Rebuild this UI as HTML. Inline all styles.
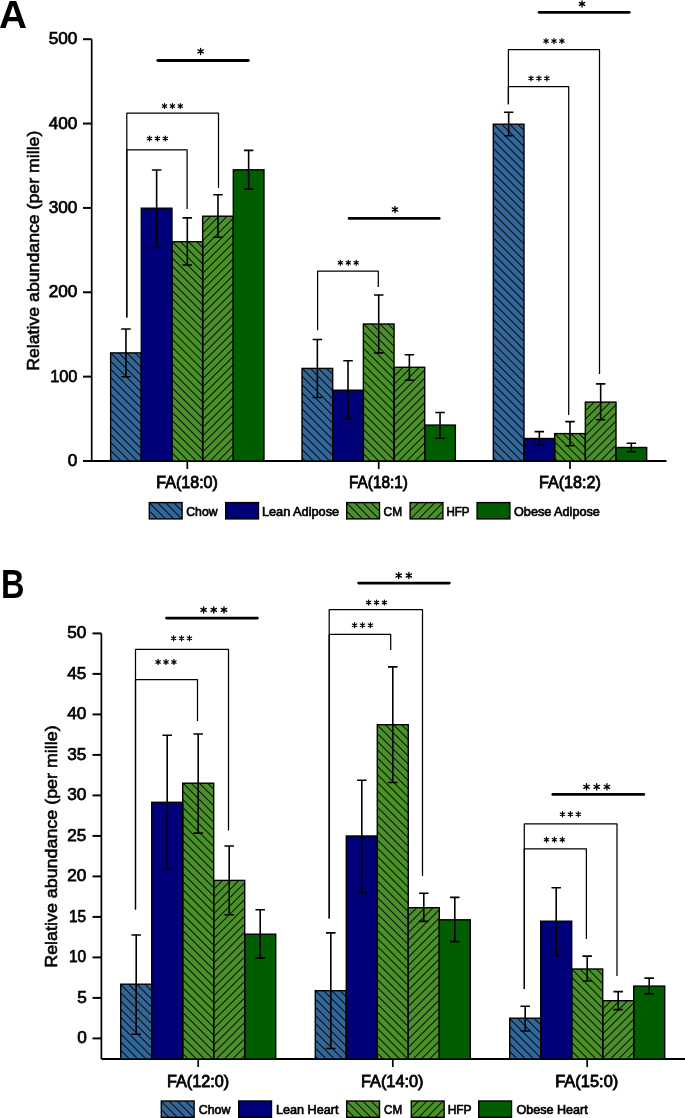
<!DOCTYPE html><html><head><meta charset="utf-8"><style>html,body{margin:0;padding:0;background:#fff;overflow:hidden}svg{display:block;will-change:transform}</style></head><body><div id="w">
<svg width="685" height="1118" viewBox="0 0 685 1118" font-family="'Liberation Sans', sans-serif">
<defs>
<pattern id="hb" patternUnits="userSpaceOnUse" width="8" height="8"><path d="M-1,-1L9,9M-1,7L1,9M7,-1L9,1" stroke="#000" stroke-opacity="0.85" stroke-width="1.05"/></pattern>
<pattern id="hf" patternUnits="userSpaceOnUse" width="8" height="8"><path d="M-1,9L9,-1M-1,1L1,-1M7,9L9,7" stroke="#000" stroke-opacity="0.85" stroke-width="1.05"/></pattern>
</defs>
<g>
<text x="-0.99" y="27.70" font-size="39" font-weight="bold" textLength="27.96" lengthAdjust="spacingAndGlyphs">A</text>
<path d="M91.7,39.20V461" stroke="#000" stroke-width="1.7" fill="none"/>
<path d="M83,461H666.5" stroke="#000" stroke-width="2" fill="none"/>
<path d="M83,461.00H91.7" stroke="#000" stroke-width="2"/>
<text x="67.70" y="466.00" font-size="17.2" stroke="#000" stroke-width="0.75" textLength="9.56" lengthAdjust="spacingAndGlyphs">0</text>
<path d="M83,376.64H91.7" stroke="#000" stroke-width="2"/>
<text x="50.15" y="381.64" font-size="17.2" stroke="#000" stroke-width="0.75" textLength="27.20" lengthAdjust="spacingAndGlyphs">100</text>
<path d="M83,292.28H91.7" stroke="#000" stroke-width="2"/>
<text x="48.70" y="297.28" font-size="17.2" stroke="#000" stroke-width="0.75" textLength="28.69" lengthAdjust="spacingAndGlyphs">200</text>
<path d="M83,207.92H91.7" stroke="#000" stroke-width="2"/>
<text x="48.70" y="212.92" font-size="17.2" stroke="#000" stroke-width="0.75" textLength="28.69" lengthAdjust="spacingAndGlyphs">300</text>
<path d="M83,123.56H91.7" stroke="#000" stroke-width="2"/>
<text x="48.70" y="128.56" font-size="17.2" stroke="#000" stroke-width="0.75" textLength="28.69" lengthAdjust="spacingAndGlyphs">400</text>
<path d="M83,39.20H91.7" stroke="#000" stroke-width="2"/>
<text x="48.70" y="44.20" font-size="17.2" stroke="#000" stroke-width="0.75" textLength="28.69" lengthAdjust="spacingAndGlyphs">500</text>
<text transform="translate(39.10,369.80) rotate(-90)" x="-1.03" y="0" font-size="17.2" stroke="#000" stroke-width="0.6" textLength="240.14" lengthAdjust="spacingAndGlyphs">Relative abundance (per mille)</text>
<rect x="110.62" y="352.90" width="30.67" height="108.10" fill="#336699"/>
<clipPath id="c1"><rect x="110.62" y="352.90" width="30.67" height="108.10"/></clipPath>
<path clip-path="url(#c1)" d="M108.62,310.26L143.30,344.93M108.62,318.38L143.30,353.06M108.62,326.51L143.30,361.18M108.62,334.64L143.30,369.31M108.62,342.77L143.30,377.44M108.62,350.90L143.30,385.57M108.62,359.02L143.30,393.69M108.62,367.15L143.30,401.82M108.62,375.28L143.30,409.95M108.62,383.41L143.30,418.08M108.62,391.54L143.30,426.21M108.62,399.66L143.30,434.33M108.62,407.79L143.30,442.46M108.62,415.92L143.30,450.59M108.62,424.05L143.30,458.72M108.62,432.18L143.30,466.85M108.62,440.30L143.30,474.98M108.62,448.43L143.30,483.10M108.62,456.56L143.30,491.23M108.62,464.69L143.30,499.36" stroke="#000" stroke-opacity="0.85" stroke-width="1.05" fill="none"/>
<rect x="141.30" y="208.20" width="30.67" height="252.80" fill="#000078"/>
<rect x="171.97" y="241.70" width="30.67" height="219.30" fill="#4a912a"/>
<clipPath id="c2"><rect x="171.97" y="241.70" width="30.67" height="219.30"/></clipPath>
<path clip-path="url(#c2)" d="M169.97,198.79L204.63,233.46M169.97,206.92L204.63,241.59M169.97,215.05L204.63,249.72M169.97,223.18L204.63,257.85M169.97,231.31L204.63,265.97M169.97,239.43L204.63,274.10M169.97,247.56L204.63,282.23M169.97,255.69L204.63,290.36M169.97,263.82L204.63,298.49M169.97,271.94L204.63,306.61M169.97,280.07L204.63,314.74M169.97,288.20L204.63,322.87M169.97,296.33L204.63,331.00M169.97,304.46L204.63,339.13M169.97,312.59L204.63,347.25M169.97,320.71L204.63,355.38M169.97,328.84L204.63,363.51M169.97,336.97L204.63,371.64M169.97,345.10L204.63,379.77M169.97,353.23L204.63,387.89M169.97,361.35L204.63,396.02M169.97,369.48L204.63,404.15M169.97,377.61L204.63,412.28M169.97,385.74L204.63,420.41M169.97,393.87L204.63,428.53M169.97,401.99L204.63,436.66M169.97,410.12L204.63,444.79M169.97,418.25L204.63,452.92M169.97,426.38L204.63,461.05M169.97,434.50L204.63,469.17M169.97,442.63L204.63,477.30M169.97,450.76L204.63,485.43M169.97,458.89L204.63,493.56M169.97,467.02L204.63,501.69" stroke="#000" stroke-opacity="0.85" stroke-width="1.05" fill="none"/>
<rect x="202.63" y="216.20" width="30.67" height="244.80" fill="#4a912a"/>
<clipPath id="c3"><rect x="202.63" y="216.20" width="30.67" height="244.80"/></clipPath>
<path clip-path="url(#c3)" d="M200.63,210.24L235.31,175.57M200.63,218.37L235.31,183.70M200.63,226.50L235.31,191.83M200.63,234.62L235.31,199.95M200.63,242.75L235.31,208.08M200.63,250.88L235.31,216.21M200.63,259.01L235.31,224.34M200.63,267.14L235.31,232.47M200.63,275.26L235.31,240.59M200.63,283.39L235.31,248.72M200.63,291.52L235.31,256.85M200.63,299.65L235.31,264.98M200.63,307.78L235.31,273.11M200.63,315.90L235.31,281.23M200.63,324.03L235.31,289.36M200.63,332.16L235.31,297.49M200.63,340.29L235.31,305.62M200.63,348.42L235.31,313.75M200.63,356.54L235.31,321.88M200.63,364.67L235.31,330.00M200.63,372.80L235.31,338.13M200.63,380.93L235.31,346.26M200.63,389.06L235.31,354.39M200.63,397.19L235.31,362.51M200.63,405.31L235.31,370.64M200.63,413.44L235.31,378.77M200.63,421.57L235.31,386.90M200.63,429.70L235.31,395.03M200.63,437.82L235.31,403.15M200.63,445.95L235.31,411.28M200.63,454.08L235.31,419.41M200.63,462.21L235.31,427.54M200.63,470.34L235.31,435.67M200.63,478.46L235.31,443.79M200.63,486.59L235.31,451.92M200.63,494.72L235.31,460.05M200.63,502.85L235.31,468.18" stroke="#000" stroke-opacity="0.85" stroke-width="1.05" fill="none"/>
<rect x="233.31" y="169.80" width="30.67" height="291.20" fill="#005e00"/>
<rect x="110.62" y="352.90" width="30.67" height="108.10" fill="none" stroke="#000" stroke-width="1.4"/>
<rect x="141.30" y="208.20" width="30.67" height="252.80" fill="none" stroke="#000" stroke-width="1.4"/>
<rect x="171.97" y="241.70" width="30.67" height="219.30" fill="none" stroke="#000" stroke-width="1.4"/>
<rect x="202.63" y="216.20" width="30.67" height="244.80" fill="none" stroke="#000" stroke-width="1.4"/>
<rect x="233.31" y="169.80" width="30.67" height="291.20" fill="none" stroke="#000" stroke-width="1.4"/>
<path d="M125.96,329.00V376.70M121.21,329.00H130.71M121.21,376.70H130.71" stroke="#000" stroke-width="1.6" fill="none"/>
<path d="M156.63,170.00V247.20M151.88,170.00H161.38M151.88,247.20H161.38" stroke="#000" stroke-width="1.6" fill="none"/>
<path d="M187.30,217.90V265.00M182.55,217.90H192.05M182.55,265.00H192.05" stroke="#000" stroke-width="1.6" fill="none"/>
<path d="M217.97,194.80V237.30M213.22,194.80H222.72M213.22,237.30H222.72" stroke="#000" stroke-width="1.6" fill="none"/>
<path d="M248.64,150.40V189.10M243.89,150.40H253.39M243.89,189.10H253.39" stroke="#000" stroke-width="1.6" fill="none"/>
<path d="M187.30,461V469" stroke="#000" stroke-width="1.7"/>
<text x="156.25" y="488.40" font-size="17" stroke="#000" stroke-width="0.85" textLength="61.64" lengthAdjust="spacingAndGlyphs">FA(18:0)</text>
<rect x="302.02" y="368.40" width="30.67" height="92.60" fill="#336699"/>
<clipPath id="c4"><rect x="302.02" y="368.40" width="30.67" height="92.60"/></clipPath>
<path clip-path="url(#c4)" d="M300.02,325.57L334.69,360.24M300.02,333.70L334.69,368.37M300.02,341.83L334.69,376.50M300.02,349.96L334.69,384.63M300.02,358.08L334.69,392.75M300.02,366.21L334.69,400.88M300.02,374.34L334.69,409.01M300.02,382.47L334.69,417.14M300.02,390.60L334.69,425.27M300.02,398.72L334.69,433.39M300.02,406.85L334.69,441.52M300.02,414.98L334.69,449.65M300.02,423.11L334.69,457.78M300.02,431.24L334.69,465.91M300.02,439.36L334.69,474.03M300.02,447.49L334.69,482.16M300.02,455.62L334.69,490.29M300.02,463.75L334.69,498.42" stroke="#000" stroke-opacity="0.85" stroke-width="1.05" fill="none"/>
<rect x="332.69" y="390.20" width="30.67" height="70.80" fill="#000078"/>
<rect x="363.37" y="324.00" width="30.67" height="137.00" fill="#4a912a"/>
<clipPath id="c5"><rect x="363.37" y="324.00" width="30.67" height="137.00"/></clipPath>
<path clip-path="url(#c5)" d="M361.37,281.03L396.04,315.70M361.37,289.16L396.04,323.83M361.37,297.28L396.04,331.96M361.37,305.41L396.04,340.08M361.37,313.54L396.04,348.21M361.37,321.67L396.04,356.34M361.37,329.80L396.04,364.47M361.37,337.93L396.04,372.60M361.37,346.05L396.04,380.72M361.37,354.18L396.04,388.85M361.37,362.31L396.04,396.98M361.37,370.44L396.04,405.11M361.37,378.56L396.04,413.24M361.37,386.69L396.04,421.36M361.37,394.82L396.04,429.49M361.37,402.95L396.04,437.62M361.37,411.08L396.04,445.75M361.37,419.20L396.04,453.88M361.37,427.33L396.04,462.00M361.37,435.46L396.04,470.13M361.37,443.59L396.04,478.26M361.37,451.72L396.04,486.39M361.37,459.85L396.04,494.51M361.37,467.97L396.04,502.64" stroke="#000" stroke-opacity="0.85" stroke-width="1.05" fill="none"/>
<rect x="394.03" y="367.30" width="30.67" height="93.70" fill="#4a912a"/>
<clipPath id="c6"><rect x="394.03" y="367.30" width="30.67" height="93.70"/></clipPath>
<path clip-path="url(#c6)" d="M392.03,361.97L426.70,327.30M392.03,370.10L426.70,335.43M392.03,378.23L426.70,343.56M392.03,386.35L426.70,351.68M392.03,394.48L426.70,359.81M392.03,402.61L426.70,367.94M392.03,410.74L426.70,376.07M392.03,418.87L426.70,384.19M392.03,426.99L426.70,392.32M392.03,435.12L426.70,400.45M392.03,443.25L426.70,408.58M392.03,451.38L426.70,416.71M392.03,459.50L426.70,424.83M392.03,467.63L426.70,432.96M392.03,475.76L426.70,441.09M392.03,483.89L426.70,449.22M392.03,492.02L426.70,457.35M392.03,500.14L426.70,465.48" stroke="#000" stroke-opacity="0.85" stroke-width="1.05" fill="none"/>
<rect x="424.70" y="425.10" width="30.67" height="35.90" fill="#005e00"/>
<rect x="302.02" y="368.40" width="30.67" height="92.60" fill="none" stroke="#000" stroke-width="1.4"/>
<rect x="332.69" y="390.20" width="30.67" height="70.80" fill="none" stroke="#000" stroke-width="1.4"/>
<rect x="363.37" y="324.00" width="30.67" height="137.00" fill="none" stroke="#000" stroke-width="1.4"/>
<rect x="394.03" y="367.30" width="30.67" height="93.70" fill="none" stroke="#000" stroke-width="1.4"/>
<rect x="424.70" y="425.10" width="30.67" height="35.90" fill="none" stroke="#000" stroke-width="1.4"/>
<path d="M317.36,339.50V397.50M312.61,339.50H322.11M312.61,397.50H322.11" stroke="#000" stroke-width="1.6" fill="none"/>
<path d="M348.03,360.80V419.10M343.28,360.80H352.78M343.28,419.10H352.78" stroke="#000" stroke-width="1.6" fill="none"/>
<path d="M378.70,295.00V352.90M373.95,295.00H383.45M373.95,352.90H383.45" stroke="#000" stroke-width="1.6" fill="none"/>
<path d="M409.37,354.70V380.20M404.62,354.70H414.12M404.62,380.20H414.12" stroke="#000" stroke-width="1.6" fill="none"/>
<path d="M440.04,412.50V438.30M435.29,412.50H444.79M435.29,438.30H444.79" stroke="#000" stroke-width="1.6" fill="none"/>
<path d="M378.70,461V469" stroke="#000" stroke-width="1.7"/>
<text x="349.00" y="488.40" font-size="17" stroke="#000" stroke-width="0.85" textLength="58.89" lengthAdjust="spacingAndGlyphs">FA(18:1)</text>
<rect x="493.32" y="124.20" width="30.67" height="336.80" fill="#336699"/>
<clipPath id="c7"><rect x="493.32" y="124.20" width="30.67" height="336.80"/></clipPath>
<path clip-path="url(#c7)" d="M491.32,81.35L526.00,116.02M491.32,89.48L526.00,124.15M491.32,97.61L526.00,132.28M491.32,105.74L526.00,140.41M491.32,113.87L526.00,148.54M491.32,121.99L526.00,156.66M491.32,130.12L526.00,164.79M491.32,138.25L526.00,172.92M491.32,146.38L526.00,181.05M491.32,154.50L526.00,189.18M491.32,162.63L526.00,197.30M491.32,170.76L526.00,205.43M491.32,178.89L526.00,213.56M491.32,187.02L526.00,221.69M491.32,195.15L526.00,229.82M491.32,203.27L526.00,237.94M491.32,211.40L526.00,246.07M491.32,219.53L526.00,254.20M491.32,227.66L526.00,262.33M491.32,235.79L526.00,270.46M491.32,243.91L526.00,278.58M491.32,252.04L526.00,286.71M491.32,260.17L526.00,294.84M491.32,268.30L526.00,302.97M491.32,276.43L526.00,311.10M491.32,284.55L526.00,319.22M491.32,292.68L526.00,327.35M491.32,300.81L526.00,335.48M491.32,308.94L526.00,343.61M491.32,317.06L526.00,351.74M491.32,325.19L526.00,359.86M491.32,333.32L526.00,367.99M491.32,341.45L526.00,376.12M491.32,349.58L526.00,384.25M491.32,357.71L526.00,392.38M491.32,365.83L526.00,400.50M491.32,373.96L526.00,408.63M491.32,382.09L526.00,416.76M491.32,390.22L526.00,424.89M491.32,398.35L526.00,433.02M491.32,406.47L526.00,441.14M491.32,414.60L526.00,449.27M491.32,422.73L526.00,457.40M491.32,430.86L526.00,465.53M491.32,438.99L526.00,473.66M491.32,447.11L526.00,481.78M491.32,455.24L526.00,489.91M491.32,463.37L526.00,498.04" stroke="#000" stroke-opacity="0.85" stroke-width="1.05" fill="none"/>
<rect x="524.00" y="438.50" width="30.67" height="22.50" fill="#000078"/>
<rect x="554.66" y="433.60" width="30.67" height="27.40" fill="#4a912a"/>
<clipPath id="c8"><rect x="554.66" y="433.60" width="30.67" height="27.40"/></clipPath>
<path clip-path="url(#c8)" d="M552.66,390.92L587.33,425.59M552.66,399.05L587.33,433.72M552.66,407.18L587.33,441.85M552.66,415.31L587.33,449.98M552.66,423.44L587.33,458.11M552.66,431.56L587.33,466.23M552.66,439.69L587.33,474.36M552.66,447.82L587.33,482.49M552.66,455.95L587.33,490.62M552.66,464.08L587.33,498.75" stroke="#000" stroke-opacity="0.85" stroke-width="1.05" fill="none"/>
<rect x="585.34" y="402.10" width="30.67" height="58.90" fill="#4a912a"/>
<clipPath id="c9"><rect x="585.34" y="402.10" width="30.67" height="58.90"/></clipPath>
<path clip-path="url(#c9)" d="M583.34,396.72L618.00,362.06M583.34,404.85L618.00,370.18M583.34,412.98L618.00,378.31M583.34,421.11L618.00,386.44M583.34,429.24L618.00,394.57M583.34,437.36L618.00,402.69M583.34,445.49L618.00,410.82M583.34,453.62L618.00,418.95M583.34,461.75L618.00,427.08M583.34,469.88L618.00,435.21M583.34,478.00L618.00,443.33M583.34,486.13L618.00,451.46M583.34,494.26L618.00,459.59M583.34,502.39L618.00,467.72" stroke="#000" stroke-opacity="0.85" stroke-width="1.05" fill="none"/>
<rect x="616.00" y="447.50" width="30.67" height="13.50" fill="#005e00"/>
<rect x="493.32" y="124.20" width="30.67" height="336.80" fill="none" stroke="#000" stroke-width="1.4"/>
<rect x="524.00" y="438.50" width="30.67" height="22.50" fill="none" stroke="#000" stroke-width="1.4"/>
<rect x="554.66" y="433.60" width="30.67" height="27.40" fill="none" stroke="#000" stroke-width="1.4"/>
<rect x="585.34" y="402.10" width="30.67" height="58.90" fill="none" stroke="#000" stroke-width="1.4"/>
<rect x="616.00" y="447.50" width="30.67" height="13.50" fill="none" stroke="#000" stroke-width="1.4"/>
<path d="M508.66,112.20V135.80M503.91,112.20H513.41M503.91,135.80H513.41" stroke="#000" stroke-width="1.6" fill="none"/>
<path d="M539.33,431.60V445.10M534.58,431.60H544.08M534.58,445.10H544.08" stroke="#000" stroke-width="1.6" fill="none"/>
<path d="M570.00,421.60V445.80M565.25,421.60H574.75M565.25,445.80H574.75" stroke="#000" stroke-width="1.6" fill="none"/>
<path d="M600.67,383.90V419.70M595.92,383.90H605.42M595.92,419.70H605.42" stroke="#000" stroke-width="1.6" fill="none"/>
<path d="M631.34,443.20V451.80M626.59,443.20H636.09M626.59,451.80H636.09" stroke="#000" stroke-width="1.6" fill="none"/>
<path d="M570.00,461V469" stroke="#000" stroke-width="1.7"/>
<text x="538.95" y="488.40" font-size="17" stroke="#000" stroke-width="0.85" textLength="61.94" lengthAdjust="spacingAndGlyphs">FA(18:2)</text>
<path d="M157.80,60.50H248.30" stroke="#000" stroke-width="2.8" stroke-linecap="round"/>
<path d="M200.60,48.30V54.50M197.92,49.85L203.28,52.95M197.92,52.95L203.28,49.85" stroke="#000" stroke-width="1.35" stroke-linecap="round" fill="none"/><circle cx="200.60" cy="51.40" r="1.1"/>
<path d="M126.80,317.40V113.10H218.50V187.90" stroke="#000" stroke-width="1.25" fill="none" stroke-linejoin="round"/>
<path d="M164.50,103.50V108.50M162.33,104.75L166.67,107.25M162.33,107.25L166.67,104.75" stroke="#000" stroke-width="1.2" stroke-linecap="round" fill="none"/><circle cx="164.50" cy="106.00" r="0.75"/><path d="M172.40,103.50V108.50M170.23,104.75L174.57,107.25M170.23,107.25L174.57,104.75" stroke="#000" stroke-width="1.2" stroke-linecap="round" fill="none"/><circle cx="172.40" cy="106.00" r="0.75"/><path d="M180.30,103.50V108.50M178.13,104.75L182.47,107.25M178.13,107.25L182.47,104.75" stroke="#000" stroke-width="1.2" stroke-linecap="round" fill="none"/><circle cx="180.30" cy="106.00" r="0.75"/>
<path d="M126.80,317.40V149.80H187.10V209.00" stroke="#000" stroke-width="1.25" fill="none" stroke-linejoin="round"/>
<path d="M149.50,136.00V141.00M147.33,137.25L151.67,139.75M147.33,139.75L151.67,137.25" stroke="#000" stroke-width="1.2" stroke-linecap="round" fill="none"/><circle cx="149.50" cy="138.50" r="0.75"/><path d="M157.40,136.00V141.00M155.23,137.25L159.57,139.75M155.23,139.75L159.57,137.25" stroke="#000" stroke-width="1.2" stroke-linecap="round" fill="none"/><circle cx="157.40" cy="138.50" r="0.75"/><path d="M165.30,136.00V141.00M163.13,137.25L167.47,139.75M163.13,139.75L167.47,137.25" stroke="#000" stroke-width="1.2" stroke-linecap="round" fill="none"/><circle cx="165.30" cy="138.50" r="0.75"/>
<path d="M349.10,218.40H439.20" stroke="#000" stroke-width="2.8" stroke-linecap="round"/>
<path d="M395.00,206.40V212.60M392.32,207.95L397.68,211.05M392.32,211.05L397.68,207.95" stroke="#000" stroke-width="1.35" stroke-linecap="round" fill="none"/><circle cx="395.00" cy="209.50" r="1.1"/>
<path d="M317.60,330.30V271.20H378.30V287.00" stroke="#000" stroke-width="1.25" fill="none" stroke-linejoin="round"/>
<path d="M340.40,260.30V265.30M338.23,261.55L342.57,264.05M338.23,264.05L342.57,261.55" stroke="#000" stroke-width="1.2" stroke-linecap="round" fill="none"/><circle cx="340.40" cy="262.80" r="0.75"/><path d="M348.30,260.30V265.30M346.13,261.55L350.47,264.05M346.13,264.05L350.47,261.55" stroke="#000" stroke-width="1.2" stroke-linecap="round" fill="none"/><circle cx="348.30" cy="262.80" r="0.75"/><path d="M356.20,260.30V265.30M354.03,261.55L358.37,264.05M354.03,264.05L358.37,261.55" stroke="#000" stroke-width="1.2" stroke-linecap="round" fill="none"/><circle cx="356.20" cy="262.80" r="0.75"/>
<path d="M539.10,12.35H629.20" stroke="#000" stroke-width="2.8" stroke-linecap="round"/>
<path d="M582.00,0.80V7.00M579.32,2.35L584.68,5.45M579.32,5.45L584.68,2.35" stroke="#000" stroke-width="1.35" stroke-linecap="round" fill="none"/><circle cx="582.00" cy="3.90" r="1.1"/>
<path d="M508.40,104.30V49.70H599.50V374.00" stroke="#000" stroke-width="1.25" fill="none" stroke-linejoin="round"/>
<path d="M546.10,38.60V43.60M543.93,39.85L548.27,42.35M543.93,42.35L548.27,39.85" stroke="#000" stroke-width="1.2" stroke-linecap="round" fill="none"/><circle cx="546.10" cy="41.10" r="0.75"/><path d="M554.00,38.60V43.60M551.83,39.85L556.17,42.35M551.83,42.35L556.17,39.85" stroke="#000" stroke-width="1.2" stroke-linecap="round" fill="none"/><circle cx="554.00" cy="41.10" r="0.75"/><path d="M561.90,38.60V43.60M559.73,39.85L564.07,42.35M559.73,42.35L564.07,39.85" stroke="#000" stroke-width="1.2" stroke-linecap="round" fill="none"/><circle cx="561.90" cy="41.10" r="0.75"/>
<path d="M508.40,104.30V86.70H568.70V415.00" stroke="#000" stroke-width="1.25" fill="none" stroke-linejoin="round"/>
<path d="M531.00,75.80V80.80M528.83,77.05L533.17,79.55M528.83,79.55L533.17,77.05" stroke="#000" stroke-width="1.2" stroke-linecap="round" fill="none"/><circle cx="531.00" cy="78.30" r="0.75"/><path d="M538.90,75.80V80.80M536.73,77.05L541.07,79.55M536.73,79.55L541.07,77.05" stroke="#000" stroke-width="1.2" stroke-linecap="round" fill="none"/><circle cx="538.90" cy="78.30" r="0.75"/><path d="M546.80,75.80V80.80M544.63,77.05L548.97,79.55M544.63,79.55L548.97,77.05" stroke="#000" stroke-width="1.2" stroke-linecap="round" fill="none"/><circle cx="546.80" cy="78.30" r="0.75"/>
<rect x="149.30" y="502.60" width="32.8" height="16.3" fill="#336699"/>
<clipPath id="c10"><rect x="149.30" y="502.60" width="32.80" height="16.30"/></clipPath>
<path clip-path="url(#c10)" d="M147.30,459.85L184.10,496.65M147.30,468.02L184.10,504.82M147.30,476.19L184.10,512.99M147.30,484.36L184.10,521.16M147.30,492.53L184.10,529.33M147.30,500.70L184.10,537.50M147.30,508.87L184.10,545.67M147.30,517.04L184.10,553.84M147.30,525.21L184.10,562.01" stroke="#000" stroke-opacity="0.85" stroke-width="1.05" fill="none"/>
<rect x="149.30" y="502.60" width="32.8" height="16.3" fill="none" stroke="#000" stroke-width="1.4"/>
<text x="186.30" y="516.00" font-size="12.3" stroke="#000" stroke-width="0.65" textLength="31.26" lengthAdjust="spacingAndGlyphs">Chow</text>
<rect x="225.70" y="502.60" width="32.8" height="16.3" fill="#000078"/>
<rect x="225.70" y="502.60" width="32.8" height="16.3" fill="none" stroke="#000" stroke-width="1.4"/>
<text x="261.96" y="516.00" font-size="12.3" stroke="#000" stroke-width="0.65" textLength="77.20" lengthAdjust="spacingAndGlyphs">Lean Adipose</text>
<rect x="346.70" y="502.60" width="32.8" height="16.3" fill="#4a912a"/>
<clipPath id="c11"><rect x="346.70" y="502.60" width="32.80" height="16.30"/></clipPath>
<path clip-path="url(#c11)" d="M344.70,460.15L381.50,496.95M344.70,468.32L381.50,505.12M344.70,476.49L381.50,513.29M344.70,484.66L381.50,521.46M344.70,492.83L381.50,529.63M344.70,501.00L381.50,537.80M344.70,509.17L381.50,545.97M344.70,517.34L381.50,554.14M344.70,525.51L381.50,562.31" stroke="#000" stroke-opacity="0.85" stroke-width="1.05" fill="none"/>
<rect x="346.70" y="502.60" width="32.8" height="16.3" fill="none" stroke="#000" stroke-width="1.4"/>
<text x="383.60" y="516.00" font-size="12.3" stroke="#000" stroke-width="0.65" textLength="18.52" lengthAdjust="spacingAndGlyphs">CM</text>
<rect x="410.10" y="502.60" width="32.8" height="16.3" fill="#4a912a"/>
<clipPath id="c12"><rect x="410.10" y="502.60" width="32.80" height="16.30"/></clipPath>
<path clip-path="url(#c12)" d="M408.10,496.76L444.90,459.96M408.10,504.93L444.90,468.13M408.10,513.10L444.90,476.30M408.10,521.27L444.90,484.47M408.10,529.44L444.90,492.64M408.10,537.61L444.90,500.81M408.10,545.78L444.90,508.98M408.10,553.95L444.90,517.15M408.10,562.12L444.90,525.32" stroke="#000" stroke-opacity="0.85" stroke-width="1.05" fill="none"/>
<rect x="410.10" y="502.60" width="32.8" height="16.3" fill="none" stroke="#000" stroke-width="1.4"/>
<text x="446.46" y="516.00" font-size="12.3" stroke="#000" stroke-width="0.65" textLength="23.11" lengthAdjust="spacingAndGlyphs">HFP</text>
<rect x="477.10" y="502.60" width="32.8" height="16.3" fill="#005e00"/>
<rect x="477.10" y="502.60" width="32.8" height="16.3" fill="none" stroke="#000" stroke-width="1.4"/>
<text x="514.00" y="516.00" font-size="12.3" stroke="#000" stroke-width="0.65" textLength="85.82" lengthAdjust="spacingAndGlyphs">Obese Adipose</text>
<text x="0.89" y="598.10" font-size="40.5" font-weight="bold" textLength="23.52" lengthAdjust="spacingAndGlyphs">B</text>
<path d="M101.4,633.40V1059" stroke="#000" stroke-width="1.7" fill="none"/>
<path d="M101.4,1059H685" stroke="#000" stroke-width="2" fill="none"/>
<path d="M92.5,1038.40H101.4" stroke="#000" stroke-width="2"/>
<text x="77.30" y="1043.40" font-size="17.2" stroke="#000" stroke-width="0.75" textLength="9.56" lengthAdjust="spacingAndGlyphs">0</text>
<path d="M92.5,997.90H101.4" stroke="#000" stroke-width="2"/>
<text x="77.30" y="1002.90" font-size="17.2" stroke="#000" stroke-width="0.75" textLength="9.56" lengthAdjust="spacingAndGlyphs">5</text>
<path d="M92.5,957.40H101.4" stroke="#000" stroke-width="2"/>
<text x="69.00" y="962.40" font-size="17.2" stroke="#000" stroke-width="0.75" textLength="17.21" lengthAdjust="spacingAndGlyphs">10</text>
<path d="M92.5,916.90H101.4" stroke="#000" stroke-width="2"/>
<text x="69.00" y="921.90" font-size="17.2" stroke="#000" stroke-width="0.75" textLength="17.21" lengthAdjust="spacingAndGlyphs">15</text>
<path d="M92.5,876.40H101.4" stroke="#000" stroke-width="2"/>
<text x="67.30" y="881.40" font-size="17.2" stroke="#000" stroke-width="0.75" textLength="19.12" lengthAdjust="spacingAndGlyphs">20</text>
<path d="M92.5,835.90H101.4" stroke="#000" stroke-width="2"/>
<text x="67.30" y="840.90" font-size="17.2" stroke="#000" stroke-width="0.75" textLength="19.12" lengthAdjust="spacingAndGlyphs">25</text>
<path d="M92.5,795.40H101.4" stroke="#000" stroke-width="2"/>
<text x="67.30" y="800.40" font-size="17.2" stroke="#000" stroke-width="0.75" textLength="19.12" lengthAdjust="spacingAndGlyphs">30</text>
<path d="M92.5,754.90H101.4" stroke="#000" stroke-width="2"/>
<text x="67.30" y="759.90" font-size="17.2" stroke="#000" stroke-width="0.75" textLength="19.12" lengthAdjust="spacingAndGlyphs">35</text>
<path d="M92.5,714.40H101.4" stroke="#000" stroke-width="2"/>
<text x="67.30" y="719.40" font-size="17.2" stroke="#000" stroke-width="0.75" textLength="19.12" lengthAdjust="spacingAndGlyphs">40</text>
<path d="M92.5,673.90H101.4" stroke="#000" stroke-width="2"/>
<text x="67.30" y="678.90" font-size="17.2" stroke="#000" stroke-width="0.75" textLength="19.12" lengthAdjust="spacingAndGlyphs">45</text>
<path d="M92.5,633.40H101.4" stroke="#000" stroke-width="2"/>
<text x="67.30" y="638.40" font-size="17.2" stroke="#000" stroke-width="0.75" textLength="19.12" lengthAdjust="spacingAndGlyphs">50</text>
<text transform="translate(57.20,966.70) rotate(-90)" x="-1.04" y="0" font-size="17.2" stroke="#000" stroke-width="0.6" textLength="242.35" lengthAdjust="spacingAndGlyphs">Relative abundance (per mille)</text>
<rect x="120.70" y="984.20" width="31.00" height="74.80" fill="#336699"/>
<clipPath id="c13"><rect x="120.70" y="984.20" width="31.00" height="74.80"/></clipPath>
<path clip-path="url(#c13)" d="M118.70,941.50L153.70,976.50M118.70,949.70L153.70,984.70M118.70,957.90L153.70,992.90M118.70,966.10L153.70,1001.10M118.70,974.30L153.70,1009.30M118.70,982.50L153.70,1017.50M118.70,990.70L153.70,1025.70M118.70,998.90L153.70,1033.90M118.70,1007.10L153.70,1042.10M118.70,1015.30L153.70,1050.30M118.70,1023.50L153.70,1058.50M118.70,1031.70L153.70,1066.70M118.70,1039.90L153.70,1074.90M118.70,1048.10L153.70,1083.10M118.70,1056.30L153.70,1091.30M118.70,1064.50L153.70,1099.50" stroke="#000" stroke-opacity="0.85" stroke-width="1.05" fill="none"/>
<rect x="151.70" y="802.30" width="31.00" height="256.70" fill="#000078"/>
<rect x="182.70" y="783.20" width="31.00" height="275.80" fill="#4a912a"/>
<clipPath id="c14"><rect x="182.70" y="783.20" width="31.00" height="275.80"/></clipPath>
<path clip-path="url(#c14)" d="M180.70,739.90L215.70,774.90M180.70,748.10L215.70,783.10M180.70,756.30L215.70,791.30M180.70,764.50L215.70,799.50M180.70,772.70L215.70,807.70M180.70,780.90L215.70,815.90M180.70,789.10L215.70,824.10M180.70,797.30L215.70,832.30M180.70,805.50L215.70,840.50M180.70,813.70L215.70,848.70M180.70,821.90L215.70,856.90M180.70,830.10L215.70,865.10M180.70,838.30L215.70,873.30M180.70,846.50L215.70,881.50M180.70,854.70L215.70,889.70M180.70,862.90L215.70,897.90M180.70,871.10L215.70,906.10M180.70,879.30L215.70,914.30M180.70,887.50L215.70,922.50M180.70,895.70L215.70,930.70M180.70,903.90L215.70,938.90M180.70,912.10L215.70,947.10M180.70,920.30L215.70,955.30M180.70,928.50L215.70,963.50M180.70,936.70L215.70,971.70M180.70,944.90L215.70,979.90M180.70,953.10L215.70,988.10M180.70,961.30L215.70,996.30M180.70,969.50L215.70,1004.50M180.70,977.70L215.70,1012.70M180.70,985.90L215.70,1020.90M180.70,994.10L215.70,1029.10M180.70,1002.30L215.70,1037.30M180.70,1010.50L215.70,1045.50M180.70,1018.70L215.70,1053.70M180.70,1026.90L215.70,1061.90M180.70,1035.10L215.70,1070.10M180.70,1043.30L215.70,1078.30M180.70,1051.50L215.70,1086.50M180.70,1059.70L215.70,1094.70M180.70,1067.90L215.70,1102.90" stroke="#000" stroke-opacity="0.85" stroke-width="1.05" fill="none"/>
<rect x="213.70" y="880.40" width="31.00" height="178.60" fill="#4a912a"/>
<clipPath id="c15"><rect x="213.70" y="880.40" width="31.00" height="178.60"/></clipPath>
<path clip-path="url(#c15)" d="M211.70,874.90L246.70,839.90M211.70,883.10L246.70,848.10M211.70,891.30L246.70,856.30M211.70,899.50L246.70,864.50M211.70,907.70L246.70,872.70M211.70,915.90L246.70,880.90M211.70,924.10L246.70,889.10M211.70,932.30L246.70,897.30M211.70,940.50L246.70,905.50M211.70,948.70L246.70,913.70M211.70,956.90L246.70,921.90M211.70,965.10L246.70,930.10M211.70,973.30L246.70,938.30M211.70,981.50L246.70,946.50M211.70,989.70L246.70,954.70M211.70,997.90L246.70,962.90M211.70,1006.10L246.70,971.10M211.70,1014.30L246.70,979.30M211.70,1022.50L246.70,987.50M211.70,1030.70L246.70,995.70M211.70,1038.90L246.70,1003.90M211.70,1047.10L246.70,1012.10M211.70,1055.30L246.70,1020.30M211.70,1063.50L246.70,1028.50M211.70,1071.70L246.70,1036.70M211.70,1079.90L246.70,1044.90M211.70,1088.10L246.70,1053.10M211.70,1096.30L246.70,1061.30" stroke="#000" stroke-opacity="0.85" stroke-width="1.05" fill="none"/>
<rect x="244.70" y="934.20" width="31.00" height="124.80" fill="#005e00"/>
<rect x="120.70" y="984.20" width="31.00" height="74.80" fill="none" stroke="#000" stroke-width="1.4"/>
<rect x="151.70" y="802.30" width="31.00" height="256.70" fill="none" stroke="#000" stroke-width="1.4"/>
<rect x="182.70" y="783.20" width="31.00" height="275.80" fill="none" stroke="#000" stroke-width="1.4"/>
<rect x="213.70" y="880.40" width="31.00" height="178.60" fill="none" stroke="#000" stroke-width="1.4"/>
<rect x="244.70" y="934.20" width="31.00" height="124.80" fill="none" stroke="#000" stroke-width="1.4"/>
<path d="M136.20,935.00V1034.30M131.45,935.00H140.95M131.45,1034.30H140.95" stroke="#000" stroke-width="1.6" fill="none"/>
<path d="M167.20,735.30V869.30M162.45,735.30H171.95M162.45,869.30H171.95" stroke="#000" stroke-width="1.6" fill="none"/>
<path d="M198.20,734.00V833.10M193.45,734.00H202.95M193.45,833.10H202.95" stroke="#000" stroke-width="1.6" fill="none"/>
<path d="M229.20,846.00V914.80M224.45,846.00H233.95M224.45,914.80H233.95" stroke="#000" stroke-width="1.6" fill="none"/>
<path d="M260.20,909.80V958.10M255.45,909.80H264.95M255.45,958.10H264.95" stroke="#000" stroke-width="1.6" fill="none"/>
<path d="M198.20,1059V1067" stroke="#000" stroke-width="1.7"/>
<text x="166.95" y="1086.80" font-size="17" stroke="#000" stroke-width="0.85" textLength="62.15" lengthAdjust="spacingAndGlyphs">FA(12:0)</text>
<rect x="315.30" y="990.70" width="31.00" height="68.30" fill="#336699"/>
<clipPath id="c16"><rect x="315.30" y="990.70" width="31.00" height="68.30"/></clipPath>
<path clip-path="url(#c16)" d="M313.30,947.60L348.30,982.60M313.30,955.80L348.30,990.80M313.30,964.00L348.30,999.00M313.30,972.20L348.30,1007.20M313.30,980.40L348.30,1015.40M313.30,988.60L348.30,1023.60M313.30,996.80L348.30,1031.80M313.30,1005.00L348.30,1040.00M313.30,1013.20L348.30,1048.20M313.30,1021.40L348.30,1056.40M313.30,1029.60L348.30,1064.60M313.30,1037.80L348.30,1072.80M313.30,1046.00L348.30,1081.00M313.30,1054.20L348.30,1089.20M313.30,1062.40L348.30,1097.40" stroke="#000" stroke-opacity="0.85" stroke-width="1.05" fill="none"/>
<rect x="346.30" y="836.00" width="31.00" height="223.00" fill="#000078"/>
<rect x="377.30" y="724.70" width="31.00" height="334.30" fill="#4a912a"/>
<clipPath id="c17"><rect x="377.30" y="724.70" width="31.00" height="334.30"/></clipPath>
<path clip-path="url(#c17)" d="M375.30,682.00L410.30,717.00M375.30,690.20L410.30,725.20M375.30,698.40L410.30,733.40M375.30,706.60L410.30,741.60M375.30,714.80L410.30,749.80M375.30,723.00L410.30,758.00M375.30,731.20L410.30,766.20M375.30,739.40L410.30,774.40M375.30,747.60L410.30,782.60M375.30,755.80L410.30,790.80M375.30,764.00L410.30,799.00M375.30,772.20L410.30,807.20M375.30,780.40L410.30,815.40M375.30,788.60L410.30,823.60M375.30,796.80L410.30,831.80M375.30,805.00L410.30,840.00M375.30,813.20L410.30,848.20M375.30,821.40L410.30,856.40M375.30,829.60L410.30,864.60M375.30,837.80L410.30,872.80M375.30,846.00L410.30,881.00M375.30,854.20L410.30,889.20M375.30,862.40L410.30,897.40M375.30,870.60L410.30,905.60M375.30,878.80L410.30,913.80M375.30,887.00L410.30,922.00M375.30,895.20L410.30,930.20M375.30,903.40L410.30,938.40M375.30,911.60L410.30,946.60M375.30,919.80L410.30,954.80M375.30,928.00L410.30,963.00M375.30,936.20L410.30,971.20M375.30,944.40L410.30,979.40M375.30,952.60L410.30,987.60M375.30,960.80L410.30,995.80M375.30,969.00L410.30,1004.00M375.30,977.20L410.30,1012.20M375.30,985.40L410.30,1020.40M375.30,993.60L410.30,1028.60M375.30,1001.80L410.30,1036.80M375.30,1010.00L410.30,1045.00M375.30,1018.20L410.30,1053.20M375.30,1026.40L410.30,1061.40M375.30,1034.60L410.30,1069.60M375.30,1042.80L410.30,1077.80M375.30,1051.00L410.30,1086.00M375.30,1059.20L410.30,1094.20M375.30,1067.40L410.30,1102.40" stroke="#000" stroke-opacity="0.85" stroke-width="1.05" fill="none"/>
<rect x="408.30" y="907.70" width="31.00" height="151.30" fill="#4a912a"/>
<clipPath id="c18"><rect x="408.30" y="907.70" width="31.00" height="151.30"/></clipPath>
<path clip-path="url(#c18)" d="M406.30,901.80L441.30,866.80M406.30,910.00L441.30,875.00M406.30,918.20L441.30,883.20M406.30,926.40L441.30,891.40M406.30,934.60L441.30,899.60M406.30,942.80L441.30,907.80M406.30,951.00L441.30,916.00M406.30,959.20L441.30,924.20M406.30,967.40L441.30,932.40M406.30,975.60L441.30,940.60M406.30,983.80L441.30,948.80M406.30,992.00L441.30,957.00M406.30,1000.20L441.30,965.20M406.30,1008.40L441.30,973.40M406.30,1016.60L441.30,981.60M406.30,1024.80L441.30,989.80M406.30,1033.00L441.30,998.00M406.30,1041.20L441.30,1006.20M406.30,1049.40L441.30,1014.40M406.30,1057.60L441.30,1022.60M406.30,1065.80L441.30,1030.80M406.30,1074.00L441.30,1039.00M406.30,1082.20L441.30,1047.20M406.30,1090.40L441.30,1055.40M406.30,1098.60L441.30,1063.60" stroke="#000" stroke-opacity="0.85" stroke-width="1.05" fill="none"/>
<rect x="439.30" y="919.80" width="31.00" height="139.20" fill="#005e00"/>
<rect x="315.30" y="990.70" width="31.00" height="68.30" fill="none" stroke="#000" stroke-width="1.4"/>
<rect x="346.30" y="836.00" width="31.00" height="223.00" fill="none" stroke="#000" stroke-width="1.4"/>
<rect x="377.30" y="724.70" width="31.00" height="334.30" fill="none" stroke="#000" stroke-width="1.4"/>
<rect x="408.30" y="907.70" width="31.00" height="151.30" fill="none" stroke="#000" stroke-width="1.4"/>
<rect x="439.30" y="919.80" width="31.00" height="139.20" fill="none" stroke="#000" stroke-width="1.4"/>
<path d="M330.80,932.90V1048.50M326.05,932.90H335.55M326.05,1048.50H335.55" stroke="#000" stroke-width="1.6" fill="none"/>
<path d="M361.80,780.20V892.50M357.05,780.20H366.55M357.05,892.50H366.55" stroke="#000" stroke-width="1.6" fill="none"/>
<path d="M392.80,666.90V782.50M388.05,666.90H397.55M388.05,782.50H397.55" stroke="#000" stroke-width="1.6" fill="none"/>
<path d="M423.80,893.20V921.40M419.05,893.20H428.55M419.05,921.40H428.55" stroke="#000" stroke-width="1.6" fill="none"/>
<path d="M454.80,897.40V941.60M450.05,897.40H459.55M450.05,941.60H459.55" stroke="#000" stroke-width="1.6" fill="none"/>
<path d="M392.80,1059V1067" stroke="#000" stroke-width="1.7"/>
<text x="361.04" y="1086.80" font-size="17" stroke="#000" stroke-width="0.85" textLength="62.45" lengthAdjust="spacingAndGlyphs">FA(14:0)</text>
<rect x="509.70" y="1018.20" width="31.00" height="40.80" fill="#336699"/>
<clipPath id="c19"><rect x="509.70" y="1018.20" width="31.00" height="40.80"/></clipPath>
<path clip-path="url(#c19)" d="M507.70,975.60L542.70,1010.60M507.70,983.80L542.70,1018.80M507.70,992.00L542.70,1027.00M507.70,1000.20L542.70,1035.20M507.70,1008.40L542.70,1043.40M507.70,1016.60L542.70,1051.60M507.70,1024.80L542.70,1059.80M507.70,1033.00L542.70,1068.00M507.70,1041.20L542.70,1076.20M507.70,1049.40L542.70,1084.40M507.70,1057.60L542.70,1092.60M507.70,1065.80L542.70,1100.80" stroke="#000" stroke-opacity="0.85" stroke-width="1.05" fill="none"/>
<rect x="540.70" y="921.20" width="31.00" height="137.80" fill="#000078"/>
<rect x="571.70" y="969.00" width="31.00" height="90.00" fill="#4a912a"/>
<clipPath id="c20"><rect x="571.70" y="969.00" width="31.00" height="90.00"/></clipPath>
<path clip-path="url(#c20)" d="M569.70,926.00L604.70,961.00M569.70,934.20L604.70,969.20M569.70,942.40L604.70,977.40M569.70,950.60L604.70,985.60M569.70,958.80L604.70,993.80M569.70,967.00L604.70,1002.00M569.70,975.20L604.70,1010.20M569.70,983.40L604.70,1018.40M569.70,991.60L604.70,1026.60M569.70,999.80L604.70,1034.80M569.70,1008.00L604.70,1043.00M569.70,1016.20L604.70,1051.20M569.70,1024.40L604.70,1059.40M569.70,1032.60L604.70,1067.60M569.70,1040.80L604.70,1075.80M569.70,1049.00L604.70,1084.00M569.70,1057.20L604.70,1092.20M569.70,1065.40L604.70,1100.40" stroke="#000" stroke-opacity="0.85" stroke-width="1.05" fill="none"/>
<rect x="602.70" y="1000.70" width="31.00" height="58.30" fill="#4a912a"/>
<clipPath id="c21"><rect x="602.70" y="1000.70" width="31.00" height="58.30"/></clipPath>
<path clip-path="url(#c21)" d="M600.70,994.90L635.70,959.90M600.70,1003.10L635.70,968.10M600.70,1011.30L635.70,976.30M600.70,1019.50L635.70,984.50M600.70,1027.70L635.70,992.70M600.70,1035.90L635.70,1000.90M600.70,1044.10L635.70,1009.10M600.70,1052.30L635.70,1017.30M600.70,1060.50L635.70,1025.50M600.70,1068.70L635.70,1033.70M600.70,1076.90L635.70,1041.90M600.70,1085.10L635.70,1050.10M600.70,1093.30L635.70,1058.30M600.70,1101.50L635.70,1066.50" stroke="#000" stroke-opacity="0.85" stroke-width="1.05" fill="none"/>
<rect x="633.70" y="986.10" width="31.00" height="72.90" fill="#005e00"/>
<rect x="509.70" y="1018.20" width="31.00" height="40.80" fill="none" stroke="#000" stroke-width="1.4"/>
<rect x="540.70" y="921.20" width="31.00" height="137.80" fill="none" stroke="#000" stroke-width="1.4"/>
<rect x="571.70" y="969.00" width="31.00" height="90.00" fill="none" stroke="#000" stroke-width="1.4"/>
<rect x="602.70" y="1000.70" width="31.00" height="58.30" fill="none" stroke="#000" stroke-width="1.4"/>
<rect x="633.70" y="986.10" width="31.00" height="72.90" fill="none" stroke="#000" stroke-width="1.4"/>
<path d="M525.20,1006.20V1031.00M520.45,1006.20H529.95M520.45,1031.00H529.95" stroke="#000" stroke-width="1.6" fill="none"/>
<path d="M556.20,887.70V955.50M551.45,887.70H560.95M551.45,955.50H560.95" stroke="#000" stroke-width="1.6" fill="none"/>
<path d="M587.20,956.10V981.00M582.45,956.10H591.95M582.45,981.00H591.95" stroke="#000" stroke-width="1.6" fill="none"/>
<path d="M618.20,991.60V1009.60M613.45,991.60H622.95M613.45,1009.60H622.95" stroke="#000" stroke-width="1.6" fill="none"/>
<path d="M649.20,978.10V993.90M644.45,978.10H653.95M644.45,993.90H653.95" stroke="#000" stroke-width="1.6" fill="none"/>
<path d="M587.20,1059V1067" stroke="#000" stroke-width="1.7"/>
<text x="555.23" y="1086.80" font-size="17" stroke="#000" stroke-width="0.85" textLength="63.06" lengthAdjust="spacingAndGlyphs">FA(15:0)</text>
<path d="M166.50,618.10H257.40" stroke="#000" stroke-width="2.8" stroke-linecap="round"/>
<path d="M203.60,606.80V613.00M200.92,608.35L206.28,611.45M200.92,611.45L206.28,608.35" stroke="#000" stroke-width="1.35" stroke-linecap="round" fill="none"/><circle cx="203.60" cy="609.90" r="1.1"/><path d="M213.80,606.80V613.00M211.12,608.35L216.48,611.45M211.12,611.45L216.48,608.35" stroke="#000" stroke-width="1.35" stroke-linecap="round" fill="none"/><circle cx="213.80" cy="609.90" r="1.1"/><path d="M224.00,606.80V613.00M221.32,608.35L226.68,611.45M221.32,611.45L226.68,608.35" stroke="#000" stroke-width="1.35" stroke-linecap="round" fill="none"/><circle cx="224.00" cy="609.90" r="1.1"/>
<path d="M135.50,909.50V649.40H228.50V830.40" stroke="#000" stroke-width="1.25" fill="none" stroke-linejoin="round"/>
<path d="M173.60,635.80V640.80M171.43,637.05L175.77,639.55M171.43,639.55L175.77,637.05" stroke="#000" stroke-width="1.2" stroke-linecap="round" fill="none"/><circle cx="173.60" cy="638.30" r="0.75"/><path d="M181.50,635.80V640.80M179.33,637.05L183.67,639.55M179.33,639.55L183.67,637.05" stroke="#000" stroke-width="1.2" stroke-linecap="round" fill="none"/><circle cx="181.50" cy="638.30" r="0.75"/><path d="M189.40,635.80V640.80M187.23,637.05L191.57,639.55M187.23,639.55L191.57,637.05" stroke="#000" stroke-width="1.2" stroke-linecap="round" fill="none"/><circle cx="189.40" cy="638.30" r="0.75"/>
<path d="M135.50,909.50V679.60H197.50V720.90" stroke="#000" stroke-width="1.25" fill="none" stroke-linejoin="round"/>
<path d="M158.10,659.40V664.40M155.93,660.65L160.27,663.15M155.93,663.15L160.27,660.65" stroke="#000" stroke-width="1.2" stroke-linecap="round" fill="none"/><circle cx="158.10" cy="661.90" r="0.75"/><path d="M166.00,659.40V664.40M163.83,660.65L168.17,663.15M163.83,663.15L168.17,660.65" stroke="#000" stroke-width="1.2" stroke-linecap="round" fill="none"/><circle cx="166.00" cy="661.90" r="0.75"/><path d="M173.90,659.40V664.40M171.73,660.65L176.07,663.15M171.73,663.15L176.07,660.65" stroke="#000" stroke-width="1.2" stroke-linecap="round" fill="none"/><circle cx="173.90" cy="661.90" r="0.75"/>
<path d="M358.60,583.10H449.30" stroke="#000" stroke-width="2.8" stroke-linecap="round"/>
<path d="M398.70,572.40V578.60M396.02,573.95L401.38,577.05M396.02,577.05L401.38,573.95" stroke="#000" stroke-width="1.35" stroke-linecap="round" fill="none"/><circle cx="398.70" cy="575.50" r="1.1"/><path d="M408.90,572.40V578.60M406.22,573.95L411.58,577.05M406.22,577.05L411.58,573.95" stroke="#000" stroke-width="1.35" stroke-linecap="round" fill="none"/><circle cx="408.90" cy="575.50" r="1.1"/>
<path d="M329.20,918.50V609.70H422.50V875.90" stroke="#000" stroke-width="1.25" fill="none" stroke-linejoin="round"/>
<path d="M368.60,600.00V605.00M366.43,601.25L370.77,603.75M366.43,603.75L370.77,601.25" stroke="#000" stroke-width="1.2" stroke-linecap="round" fill="none"/><circle cx="368.60" cy="602.50" r="0.75"/><path d="M376.50,600.00V605.00M374.33,601.25L378.67,603.75M374.33,603.75L378.67,601.25" stroke="#000" stroke-width="1.2" stroke-linecap="round" fill="none"/><circle cx="376.50" cy="602.50" r="0.75"/><path d="M384.40,600.00V605.00M382.23,601.25L386.57,603.75M382.23,603.75L386.57,601.25" stroke="#000" stroke-width="1.2" stroke-linecap="round" fill="none"/><circle cx="384.40" cy="602.50" r="0.75"/>
<path d="M329.20,918.50V634.40H390.70V650.10" stroke="#000" stroke-width="1.25" fill="none" stroke-linejoin="round"/>
<path d="M354.60,622.70V627.70M352.43,623.95L356.77,626.45M352.43,626.45L356.77,623.95" stroke="#000" stroke-width="1.2" stroke-linecap="round" fill="none"/><circle cx="354.60" cy="625.20" r="0.75"/><path d="M362.50,622.70V627.70M360.33,623.95L364.67,626.45M360.33,626.45L364.67,623.95" stroke="#000" stroke-width="1.2" stroke-linecap="round" fill="none"/><circle cx="362.50" cy="625.20" r="0.75"/><path d="M370.40,622.70V627.70M368.23,623.95L372.57,626.45M368.23,626.45L372.57,623.95" stroke="#000" stroke-width="1.2" stroke-linecap="round" fill="none"/><circle cx="370.40" cy="625.20" r="0.75"/>
<path d="M552.80,794.40H643.80" stroke="#000" stroke-width="2.8" stroke-linecap="round"/>
<path d="M586.50,783.70V789.90M583.82,785.25L589.18,788.35M583.82,788.35L589.18,785.25" stroke="#000" stroke-width="1.35" stroke-linecap="round" fill="none"/><circle cx="586.50" cy="786.80" r="1.1"/><path d="M596.70,783.70V789.90M594.02,785.25L599.38,788.35M594.02,788.35L599.38,785.25" stroke="#000" stroke-width="1.35" stroke-linecap="round" fill="none"/><circle cx="596.70" cy="786.80" r="1.1"/><path d="M606.90,783.70V789.90M604.22,785.25L609.58,788.35M604.22,788.35L609.58,785.25" stroke="#000" stroke-width="1.35" stroke-linecap="round" fill="none"/><circle cx="606.90" cy="786.80" r="1.1"/>
<path d="M524.30,989.00V823.90H617.00V976.10" stroke="#000" stroke-width="1.25" fill="none" stroke-linejoin="round"/>
<path d="M562.50,811.70V816.70M560.33,812.95L564.67,815.45M560.33,815.45L564.67,812.95" stroke="#000" stroke-width="1.2" stroke-linecap="round" fill="none"/><circle cx="562.50" cy="814.20" r="0.75"/><path d="M570.40,811.70V816.70M568.23,812.95L572.57,815.45M568.23,815.45L572.57,812.95" stroke="#000" stroke-width="1.2" stroke-linecap="round" fill="none"/><circle cx="570.40" cy="814.20" r="0.75"/><path d="M578.30,811.70V816.70M576.13,812.95L580.47,815.45M576.13,815.45L580.47,812.95" stroke="#000" stroke-width="1.2" stroke-linecap="round" fill="none"/><circle cx="578.30" cy="814.20" r="0.75"/>
<path d="M524.30,989.00V848.80H586.40V938.90" stroke="#000" stroke-width="1.25" fill="none" stroke-linejoin="round"/>
<path d="M546.50,837.20V842.20M544.33,838.45L548.67,840.95M544.33,840.95L548.67,838.45" stroke="#000" stroke-width="1.2" stroke-linecap="round" fill="none"/><circle cx="546.50" cy="839.70" r="0.75"/><path d="M554.40,837.20V842.20M552.23,838.45L556.57,840.95M552.23,840.95L556.57,838.45" stroke="#000" stroke-width="1.2" stroke-linecap="round" fill="none"/><circle cx="554.40" cy="839.70" r="0.75"/><path d="M562.30,837.20V842.20M560.13,838.45L564.47,840.95M560.13,840.95L564.47,838.45" stroke="#000" stroke-width="1.2" stroke-linecap="round" fill="none"/><circle cx="562.30" cy="839.70" r="0.75"/>
<rect x="161.30" y="1101.00" width="32.8" height="16.3" fill="#336699"/>
<clipPath id="c22"><rect x="161.30" y="1101.00" width="32.80" height="16.30"/></clipPath>
<path clip-path="url(#c22)" d="M159.30,1058.55L196.10,1095.35M159.30,1066.72L196.10,1103.52M159.30,1074.89L196.10,1111.69M159.30,1083.06L196.10,1119.86M159.30,1091.23L196.10,1128.03M159.30,1099.40L196.10,1136.20M159.30,1107.57L196.10,1144.37M159.30,1115.74L196.10,1152.54M159.30,1123.91L196.10,1160.71" stroke="#000" stroke-opacity="0.85" stroke-width="1.05" fill="none"/>
<rect x="161.30" y="1101.00" width="32.8" height="16.3" fill="none" stroke="#000" stroke-width="1.4"/>
<text x="198.80" y="1114.10" font-size="12.3" stroke="#000" stroke-width="0.65" textLength="31.65" lengthAdjust="spacingAndGlyphs">Chow</text>
<rect x="238.70" y="1101.00" width="32.8" height="16.3" fill="#000078"/>
<rect x="238.70" y="1101.00" width="32.8" height="16.3" fill="none" stroke="#000" stroke-width="1.4"/>
<text x="275.97" y="1114.10" font-size="12.3" stroke="#000" stroke-width="0.65" textLength="62.47" lengthAdjust="spacingAndGlyphs">Lean Heart</text>
<rect x="346.70" y="1101.00" width="32.8" height="16.3" fill="#4a912a"/>
<clipPath id="c23"><rect x="346.70" y="1101.00" width="32.80" height="16.30"/></clipPath>
<path clip-path="url(#c23)" d="M344.70,1058.45L381.50,1095.25M344.70,1066.62L381.50,1103.42M344.70,1074.79L381.50,1111.59M344.70,1082.96L381.50,1119.76M344.70,1091.13L381.50,1127.93M344.70,1099.30L381.50,1136.10M344.70,1107.47L381.50,1144.27M344.70,1115.64L381.50,1152.44M344.70,1123.81L381.50,1160.61" stroke="#000" stroke-opacity="0.85" stroke-width="1.05" fill="none"/>
<rect x="346.70" y="1101.00" width="32.8" height="16.3" fill="none" stroke="#000" stroke-width="1.4"/>
<text x="384.00" y="1114.10" font-size="12.3" stroke="#000" stroke-width="0.65" textLength="18.12" lengthAdjust="spacingAndGlyphs">CM</text>
<rect x="411.30" y="1101.00" width="32.8" height="16.3" fill="#4a912a"/>
<clipPath id="c24"><rect x="411.30" y="1101.00" width="32.80" height="16.30"/></clipPath>
<path clip-path="url(#c24)" d="M409.30,1094.06L446.10,1057.26M409.30,1102.23L446.10,1065.43M409.30,1110.40L446.10,1073.60M409.30,1118.57L446.10,1081.77M409.30,1126.74L446.10,1089.94M409.30,1134.91L446.10,1098.11M409.30,1143.08L446.10,1106.28M409.30,1151.25L446.10,1114.45M409.30,1159.42L446.10,1122.62" stroke="#000" stroke-opacity="0.85" stroke-width="1.05" fill="none"/>
<rect x="411.30" y="1101.00" width="32.8" height="16.3" fill="none" stroke="#000" stroke-width="1.4"/>
<text x="447.63" y="1114.10" font-size="12.3" stroke="#000" stroke-width="0.65" textLength="23.97" lengthAdjust="spacingAndGlyphs">HFP</text>
<rect x="478.70" y="1101.00" width="32.8" height="16.3" fill="#005e00"/>
<rect x="478.70" y="1101.00" width="32.8" height="16.3" fill="none" stroke="#000" stroke-width="1.4"/>
<text x="516.40" y="1114.10" font-size="12.3" stroke="#000" stroke-width="0.65" textLength="71.31" lengthAdjust="spacingAndGlyphs">Obese Heart</text>
</g></svg></div></body></html>
